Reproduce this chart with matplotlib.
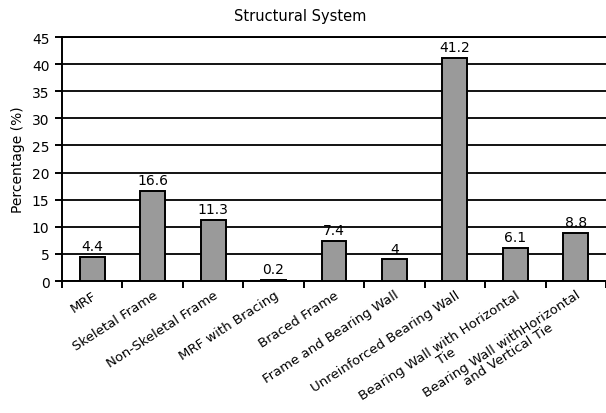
import matplotlib
matplotlib.use("Agg")
import matplotlib.pyplot as plt
import numpy as np

categories = ["MRF", "Skeletal Frame", "Non-Skeletal Frame", "MRF with Bracing",
              "Braced Frame", "Frame and Bearing Wall", "Unreinforced Bearing Wall",
              "Bearing Wall with Horizontal\nTie", "Bearing Wall withHorizontal\nand Vertical Tie"]
values = [4.4, 16.6, 11.3, 0.2, 7.4, 4, 41.2, 6.1, 8.8]
value_labels = ["4.4", "16.6", "11.3", "0.2", "7.4", "4", "41.2", "6.1", "8.8"]
yticks = [0, 5, 10, 15, 20, 25, 30, 35, 40, 45]

plt.rcParams['font.family'] = ['DejaVu Sans']

fig = plt.figure(figsize=(6.06, 4.14), dpi=100)
ax = fig.add_axes([62/606, 1-282/414, 544/606, 244/414])

x = np.arange(len(categories))
ax.bar(x, values, width=0.41, color="#9a9a9a", edgecolor="black", linewidth=1.4, zorder=3)
for xi, v, lab in zip(x, values, value_labels):
    ax.text(xi, v + 0.7, lab, ha="center", va="bottom", fontsize=10)

ax.set_xlim(-0.5, len(categories) - 0.5)
ax.set_ylim(0, 45)
ax.set_yticks(yticks)
ax.set_yticklabels([str(t) for t in yticks], fontsize=10)
ax.yaxis.grid(True, color="black", linewidth=1.3, zorder=0)
ax.set_axisbelow(True)

ax.set_xticks(np.arange(len(categories) + 1) - 0.5)
ax.set_xticklabels([])
ax.set_xticks(x, minor=True)
labels = ax.set_xticklabels(categories, minor=True, rotation=33, ha="right", va="top",
                            rotation_mode="anchor", fontsize=9.5, multialignment="center")
for t in labels:
    t.set_linespacing(0.95)
ax.tick_params(axis="x", which="minor", length=0, pad=5)
ax.tick_params(axis="x", which="major", length=5, width=1.4, direction="out")
ax.tick_params(axis="y", length=5, width=1.4, direction="out", pad=4)

for s in ["left", "bottom", "top", "right"]:
    ax.spines[s].set_linewidth(1.4)
ax.spines["right"].set_visible(False)

ax.set_ylabel("Percentage (%)", fontsize=10, labelpad=5)
fig.text(300/606, 1 - 17/414, "Structural System",
         ha="center", va="center", fontsize=10.5)

fig.savefig("out.png", dpi=100)
